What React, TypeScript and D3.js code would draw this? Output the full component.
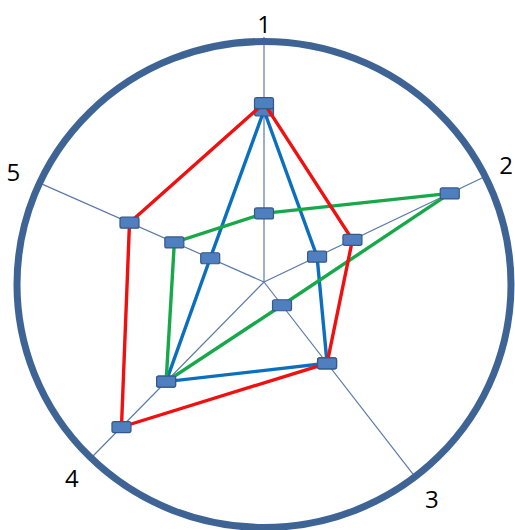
import React from "react";
import * as d3 from "d3";

const axisLabels = ["1", "2", "3", "4", "5"];
// series values (0..100) per axis 1..5
const blueValues = [70, 24, 42, 57, 24];
const greenValues = [28, 84, 12, 57, 40];
const redValues = [73, 40, 42, 83, 60];

// layout: axis directions (degrees clockwise from top), as drawn in the reference
const axisAngles = [0, 64.5, 142.2, 224.5, 293.8];

const W = 515;
const H = 530;
const cx = 264;
const cy = 282;
const R = 245;

export default function App() {
  const r = d3.scaleLinear().domain([0, 100]).range([0, R]);
  const pt = (i: number, v: number): [number, number] => {
    const a = (axisAngles[i] * Math.PI) / 180;
    return [cx + r(v) * Math.sin(a), cy - r(v) * Math.cos(a)];
  };
  const line = d3.line<[number, number]>().curve(d3.curveLinearClosed);
  const series = [
    { values: blueValues, color: "#0b6fc0" },
    { values: greenValues, color: "#17a84a" },
    { values: redValues, color: "#f01010" },
  ];
  return (
    <svg
      width={W}
      height={H}
      style={{ position: "absolute", left: 0, top: 0, background: "#fff" }}
    >
      {axisLabels.map((_, i) => {
        const [x, y] = pt(i, 100);
        return (
          <line key={"s" + i} x1={cx} y1={cy} x2={x} y2={y} stroke="#5a7aa8" strokeWidth={1.2} />
        );
      })}
      <ellipse cx={cx} cy={cy + 2.5} rx={R + 2} ry={R - 2} fill="none" stroke="#3e6496" strokeWidth={7} />
      {axisLabels.map((lab, i) => {
        const a = (axisAngles[i] * Math.PI) / 180;
        const lr = i === 0 ? 259 : 274;
        const x = Math.min(cx + lr * Math.sin(a), W - 9);
        return (
          <text
            key={"l" + i}
            x={x}
            y={cy - lr * Math.cos(a)}
            textAnchor="middle"
            dominantBaseline="central"
            fontFamily="'Open Sans', 'DejaVu Sans', sans-serif"
            fontSize={24}
            fill="#000"
          >
            {lab}
          </text>
        );
      })}
      {series.map((s, si) => {
        const pts = s.values.map((v, i) => pt(i, v));
        return (
          <g key={"g" + si}>
            <path d={line(pts) || ""} fill="none" stroke={s.color} strokeWidth={3.4} strokeLinejoin="miter" />
            {pts.map(([x, y], i) => (
              <rect
                key={i}
                x={x - 9.5}
                y={y - 5.5}
                width={19}
                height={11}
                rx={2}
                fill="#4f7fbf"
                stroke="#35598a"
                strokeWidth={1.2}
              />
            ))}
          </g>
        );
      })}
    </svg>
  );
}
